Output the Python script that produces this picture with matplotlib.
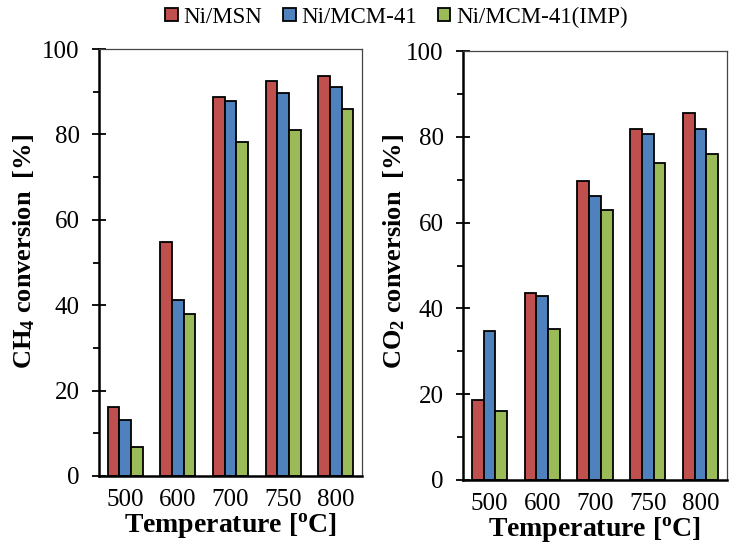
"""
CH4 and CO2 conversion vs temperature for three Ni catalysts
"""
import numpy as np
import matplotlib
matplotlib.use("agg")
import matplotlib.pyplot as plt
from matplotlib.ticker import MultipleLocator

temperatures = ["500", "600", "700", "750", "800"]
catalysts = ["Ni/MSN", "Ni/MCM-41", "Ni/MCM-41(IMP)"]

ch4_msn = [16.2, 54.8, 88.7, 92.4, 93.7]
ch4_mcm = [13.0, 41.3, 87.9, 89.7, 91.2]
ch4_imp = [6.9, 38.0, 78.2, 81.1, 85.9]

co2_msn = [18.6, 43.6, 69.8, 81.9, 85.6]
co2_mcm = [34.7, 42.8, 66.2, 80.7, 81.9]
co2_imp = [16.2, 35.1, 63.0, 73.8, 75.9]

colors = ["#C0504D", "#4F81BD", "#9BBB59"]

plt.rcParams['font.family'] = ['Liberation Serif', 'DejaVu Serif']
plt.rcParams['mathtext.fontset'] = 'custom'
plt.rcParams['mathtext.rm'] = 'Liberation Serif'
plt.rcParams['mathtext.bf'] = 'Liberation Serif:bold'


def draw_panel(ax, series, ylabel, label_xy):
    x = np.arange(len(temperatures))
    width = 0.222
    bars = []
    for i, (vals, col) in enumerate(zip(series, colors)):
        b = ax.bar(x + (i - 1) * width, vals, width, color=col,
                   edgecolor="black", linewidth=1.3, label=catalysts[i])
        bars.append(b)
    ax.set_xlim(-0.5, len(temperatures) - 0.5)
    ax.set_ylim(0, 100)
    ax.set_xticks(x)
    ax.set_xticklabels(temperatures)
    ax.yaxis.set_major_locator(MultipleLocator(20))
    ax.yaxis.set_minor_locator(MultipleLocator(10))
    ax.tick_params(axis='x', length=0, labelsize=18, pad=9)
    ax.tick_params(axis='y', which='major', direction='inout', length=10,
                   width=1.3, labelsize=18, pad=9)
    ax.tick_params(axis='y', which='minor', direction='out', length=4,
                   width=1.3)
    for side in ['left', 'bottom']:
        ax.spines[side].set_linewidth(1.8)
    for side in ['top', 'right']:
        ax.spines[side].set_linewidth(0.9)
        ax.spines[side].set_color('#444444')
    ax.set_xlabel("Temperature [$\\mathregular{^o}$C]", fontsize=20,
                  fontweight='bold', labelpad=0)
    ax.set_ylabel(ylabel, fontsize=19, fontweight='bold')
    ax.yaxis.set_label_coords(*label_xy)
    ax.yaxis.label.set_verticalalignment('center')
    return bars


fig = plt.figure(figsize=(7.45, 5.48), dpi=100)
ax1 = fig.add_axes([99 / 745, 1 - 476 / 548, 263 / 745, 427 / 548])
ax2 = fig.add_axes([463 / 745, 1 - 480 / 548, 264 / 745, 429 / 548])

bars = draw_panel(ax1, [ch4_msn, ch4_mcm, ch4_imp],
                  "CH$\\mathbf{_4}$ conversion  [%]", (-0.285, 0.525))
draw_panel(ax2, [co2_msn, co2_mcm, co2_imp],
           "CO$\\mathbf{_2}$ conversion  [%]", (-0.261, 0.533))

fig.legend(handles=bars, labels=catalysts, loc='center',
           bbox_to_anchor=(0.532, 0.969), ncol=3, frameon=False,
           fontsize=16.5, handlelength=0.55, handleheight=0.55,
           handletextpad=0.25, columnspacing=0.9)

fig.savefig("out.png", dpi=100)
